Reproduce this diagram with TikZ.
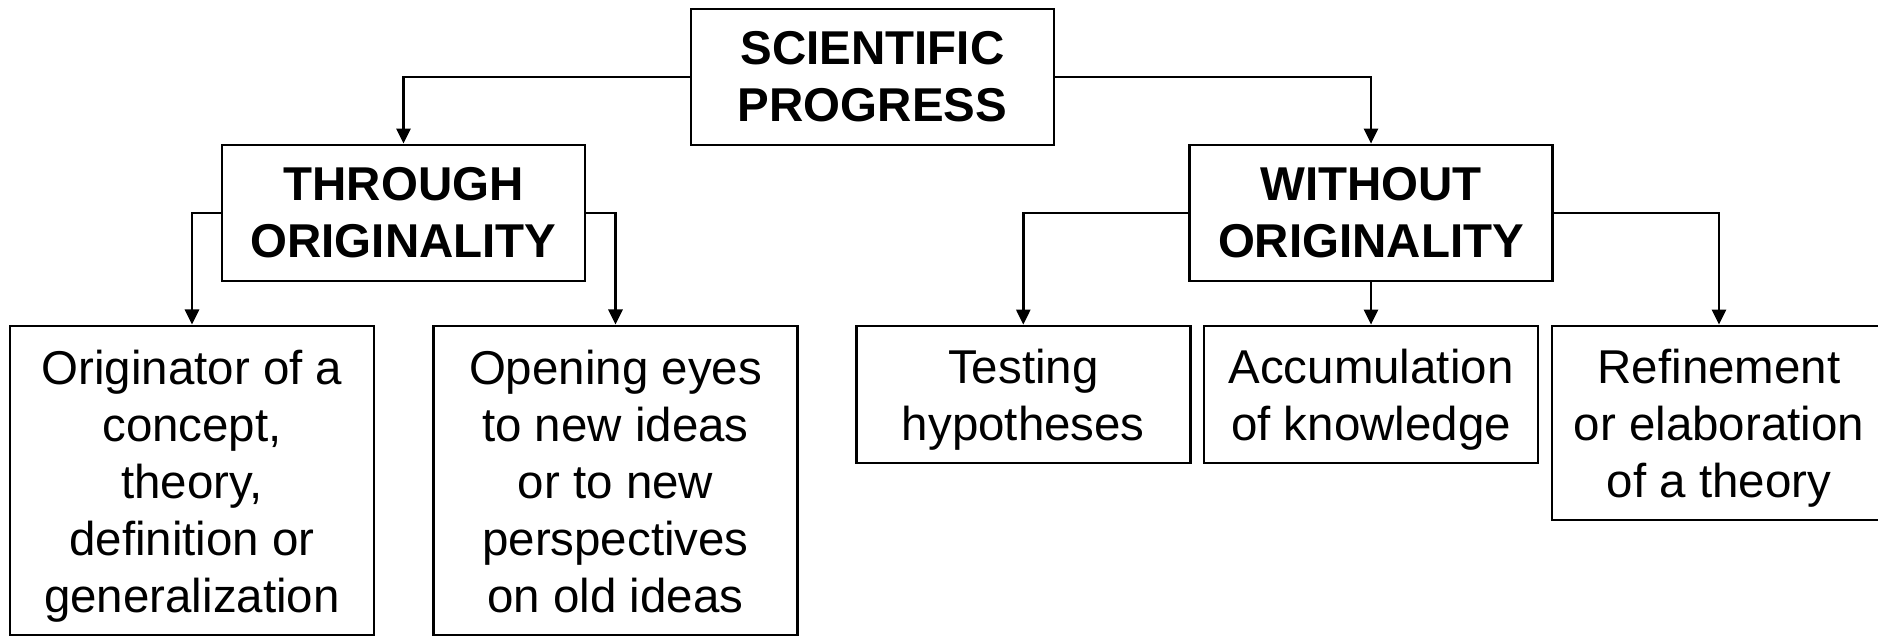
\documentclass[tikz,border=0pt]{standalone}
\usepackage{fontspec}
\setmainfont{Liberation Sans}
\usetikzlibrary{arrows.meta}
\newcommand{\boxtext}[2][5.4pt]{\raisebox{-#1}[0pt][0pt]{\begin{tabular}{@{}c@{}}#2\end{tabular}}}

\begin{document}
\begin{tikzpicture}[x=0.01cm,y=-0.01cm,
	box/.style={draw,line width=0.75pt,inner sep=0pt,font=\fontsize{13.5}{16.2}\selectfont},
	head/.style={box,font=\fontsize{13.5}{16.2}\selectfont\bfseries,minimum width=3.63cm,minimum height=1.36cm},
	leaf/.style={box,minimum width=3.34cm,minimum height=1.37cm},
	arr/.style={line width=0.75pt,-{Triangle[length=4.3pt,width=4pt]}}]
\useasboundingbox (0,0) rectangle (1878,636);
% top levels
\node[head] (prog) at (872.5,77) {\boxtext[5pt]{SCIENTIFIC\\PROGRESS}};
\node[head] (thr) at (403.5,213) {\boxtext[5pt]{THROUGH\\ORIGINALITY}};
\node[head] (wo) at (1371,213) {\boxtext[5pt]{WITHOUT\\ORIGINALITY}};
% leaves
\node[box,minimum width=3.64cm,minimum height=3.09cm] (orig) at (192,480.5)
	{\boxtext{Originator of a\\concept,\\theory,\\definition or\\generalization}};
\node[box,minimum width=3.64cm,minimum height=3.09cm] (open) at (615.5,480.5)
	{\boxtext{Opening eyes\\to new ideas\\or to new\\perspectives\\on old ideas}};
\node[leaf] (test) at (1023.3,394.5) {\boxtext{Testing\\hypotheses}};
\node[leaf] (acc) at (1371,394.5) {\boxtext{Accumulation\\of knowledge}};
\node[leaf,minimum height=1.94cm] (ref) at (1719,423) {\boxtext{Refinement\\or elaboration\\of a theory}};
% connectors
\draw[arr] (prog.west) -| (thr.north);
\draw[arr] (prog.east) -| (wo.north);
\draw[arr] (thr.west) -| (orig.north);
\draw[arr] (thr.east) -| (open.north);
\draw[arr] (wo.west) -| (test.north);
\draw[arr] (wo.south) -- (acc.north);
\draw[arr] (wo.east) -| (ref.north);
\end{tikzpicture}
\end{document}
